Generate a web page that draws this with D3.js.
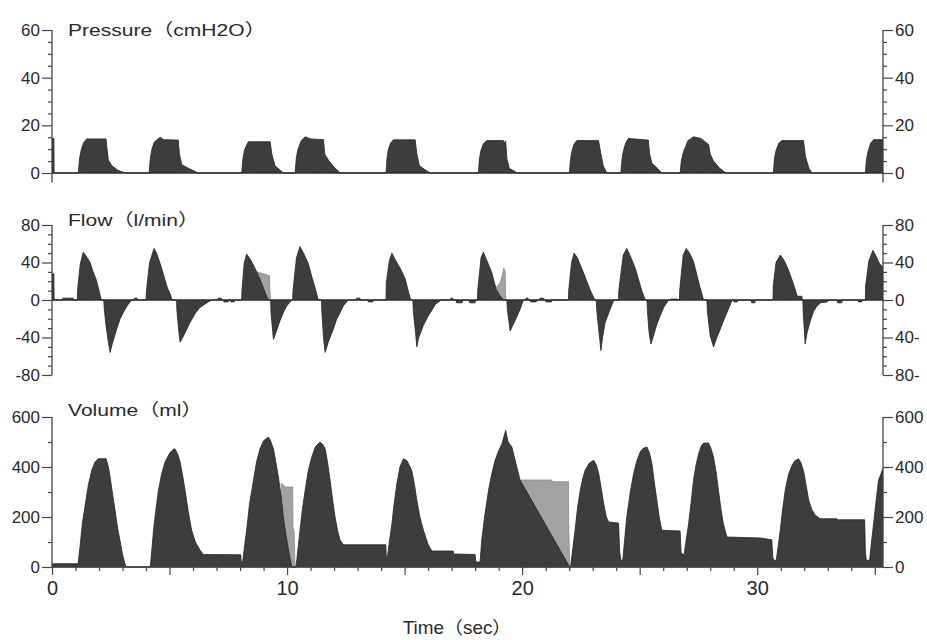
<!DOCTYPE html>
<html><head><meta charset="utf-8">
<script src="https://cdn.jsdelivr.net/npm/d3@7/dist/d3.min.js"></script>
<style>body{margin:0;background:#fff}svg{display:block}</style>
</head><body>
<svg id="c" width="927" height="640"></svg>
<script>
// ---------------- data ----------------
const panelTitles = ["Pressure（cmH2O）", "Flow（l/min）", "Volume（ml）"];
const xAxisTitle = "Time（sec）";
const xTickLabels = [0, 10, 20, 30];
const pressureTicks = [0, 20, 40, 60];
const flowTicks = [-80, -40, 0, 40, 80];
const flowRightLabels = ["80-", "40-", "0", "40", "80"];
const volumeTicks = [0, 200, 400, 600];

// [time (s), pressure (cmH2O)]
const pressureData = [
  [0,14.5],[0.08,14.5],[0.09,0],
  [1.12,0],[1.17,6],[1.25,10],[1.35,12.8],[1.47,14.3],[2.3,14.3],[2.34,10],[2.4,5.4],[2.55,3],[2.8,1.2],[3.11,0],
  [4.13,0],[4.18,6],[4.25,10],[4.35,13],[4.6,15],[4.75,14],[5.37,13.8],[5.42,8],[5.52,3.5],[5.8,2],[6.23,0],
  [8.07,0],[8.12,6],[8.2,10],[8.35,13.1],[9.28,13.1],[9.35,8],[9.49,3],[9.84,0],
  [10.34,0],[10.39,6],[10.45,9.5],[10.6,13.5],[10.77,15.2],[11.0,14.3],[11.55,14],[11.6,8],[11.76,5.4],[12.0,2.5],[12.26,0],
  [14.21,0],[14.25,6],[14.3,9.5],[14.4,12.5],[14.52,13.9],[15.45,13.9],[15.52,8],[15.63,3],[15.9,1.2],[16.09,0],
  [18.14,0],[18.18,6],[18.25,9.5],[18.35,12.3],[18.5,13.6],[19.2,13.6],[19.22,12.5],[19.3,13.5],[19.35,6],[19.45,2],[19.8,0],
  [22.01,0],[22.05,5],[22.1,8.5],[22.2,12],[22.33,13.6],[23.25,13.6],[23.35,8],[23.45,3],[23.6,0],
  [24.2,0],[24.25,6],[24.3,9],[24.4,12.5],[24.52,14.5],[25.37,13.8],[25.42,8],[25.52,4.1],[25.75,2],[25.94,0],
  [26.72,0],[26.77,5],[26.85,8.5],[27.05,13.5],[27.29,15.2],[27.6,14.5],[27.93,12],[28.0,8],[28.14,5],[28.4,2],[28.67,0],
  [30.69,0],[30.73,6],[30.8,9.5],[30.92,12.5],[31.05,13.6],[31.97,13.6],[32.05,7],[32.2,2],[32.33,0],
  [34.6,0],[34.64,5],[34.7,8.5],[34.82,12.5],[34.95,14],[35.35,14]
];

// [time (s), flow (l/min)]
const flowData = [
  [0,28],[0.08,28],[0.09,0],
  [0.45,0],[0.46,2],[0.9,2],[0.91,0],
  [1.08,0],[1.09,11],[1.2,38],[1.33,51],[1.45,47],[1.62,40],[1.75,30],[1.89,21],[2.0,10],[2.1,0],
  [2.2,0],[2.22,-8],[2.3,-28],[2.4,-45],[2.47,-56],[2.55,-48],[2.75,-31],[2.9,-20],[3.04,-13],[3.2,-6],[3.32,-2],[3.4,0],
  [3.5,0],[3.51,2],[3.62,2],[3.63,0],
  [4.0,0],[4.01,8],[4.15,40],[4.34,55],[4.45,50],[4.64,36],[4.8,22],[4.91,13],[5.05,5],[5.1,0],
  [5.3,0],[5.31,-10],[5.4,-35],[5.45,-45],[5.6,-38],[5.87,-24],[6.1,-14],[6.29,-8],[6.65,-2],[6.8,0],
  [7.05,0],[7.06,2],[7.2,2],[7.21,0],[7.3,0],[7.31,-2],[7.5,-2],[7.51,0],[7.6,0],[7.61,-2],[7.75,-2],[7.76,0],
  [8.07,0],[8.08,10],[8.18,40],[8.28,49],[8.45,43],[8.71,30],[8.85,22],[8.99,13],[9.1,6],[9.2,0],
  [9.3,0],[9.32,-15],[9.42,-42],[9.55,-33],[9.7,-22],[9.85,-13],[9.98,-6.5],[10.2,0],
  [10.24,0],[10.25,10],[10.4,45],[10.55,57],[10.7,50],[10.9,39],[11.05,25],[11.19,13],[11.33,0],
  [11.46,0],[11.48,-12],[11.55,-40],[11.62,-56],[11.75,-45],[11.97,-31],[12.1,-21],[12.26,-13],[12.4,-6],[12.55,-1.5],[12.6,0],
  [12.95,0],[12.96,2],[13.1,2],[13.11,0],[13.45,0],[13.46,-2],[13.65,-2],[13.66,0],
  [14.21,0],[14.22,18],[14.35,42],[14.46,50],[14.6,43],[14.81,34],[15.02,23],[15.15,10],[15.26,0],
  [15.35,0],[15.37,-12],[15.45,-31],[15.52,-50],[15.6,-40],[15.8,-27],[16.0,-17],[16.16,-11],[16.3,-5],[16.45,-2],[16.55,0],
  [16.95,0],[16.96,2],[17.05,2],[17.06,0],[17.2,0],[17.21,-3],[17.45,-3],[17.46,0],[17.75,0],[17.76,-3],[18.0,-3],[18.01,0],
  [18.1,0],[18.11,10],[18.25,45],[18.35,51],[18.5,42],[18.7,30],[18.9,11],[19.05,5],[19.2,0],
  [19.35,0],[19.37,-10],[19.49,-33],[19.6,-27],[19.7,-22],[19.91,-10],[20.05,0],
  [20.15,0],[20.16,2],[20.25,2],[20.26,0],[20.35,0],[20.36,-2],[20.6,-2],[20.61,0],[20.75,0],[20.76,2],[20.9,2],[20.91,0],[21.0,0],[21.01,-2],[21.25,-2],[21.26,0],
  [21.97,0],[21.98,10],[22.1,40],[22.21,50],[22.35,45],[22.61,29],[22.75,20],[22.89,11],[23.0,5],[23.1,0],
  [23.15,0],[23.17,-10],[23.25,-30],[23.35,-54],[23.42,-40],[23.53,-24],[23.74,-10],[23.9,0],
  [24.1,0],[24.11,10],[24.3,48],[24.45,55],[24.6,47],[24.81,34],[24.95,22],[25.1,9],[25.24,0],
  [25.31,0],[25.33,-12],[25.4,-35],[25.48,-47],[25.6,-37],[25.73,-26],[25.9,-15],[26.02,-8],[26.23,0],
  [26.3,0],[26.31,1],[26.6,1],[26.61,0],
  [26.69,0],[26.7,10],[26.85,48],[26.98,55],[27.12,50],[27.29,41],[27.45,25],[27.57,13],[27.72,0],
  [27.86,0],[27.88,-12],[28.0,-38],[28.14,-50],[28.25,-42],[28.43,-31],[28.6,-20],[28.71,-13.5],[28.93,0],
  [29.0,0],[29.01,-2],[29.15,-2],[29.16,0],[29.75,0],[29.76,-3],[29.9,-3],[29.91,0],
  [30.67,0],[30.68,15],[30.8,40],[30.98,48],[31.15,42],[31.33,32],[31.5,20],[31.62,11],[31.7,4],[31.9,4],[31.92,0],
  [31.94,0],[31.96,-15],[32.04,-47],[32.12,-35],[32.26,-22],[32.4,-12],[32.54,-6.5],[32.7,-3],[32.98,-2],[33.05,0],
  [33.4,0],[33.41,-3],[33.6,-3],[33.61,0],[34.3,0],[34.31,-2],[34.45,-2],[34.46,0],
  [34.6,0],[34.61,15],[34.75,42],[34.92,53],[35.05,47],[35.2,39],[35.35,35]
];
// light grey overlays (flow)
const flowGrayA = [[8.71,0],[8.71,30],[9.0,28],[9.25,26],[9.27,10],[9.3,0]];
const flowGrayB = [[18.86,0],[18.86,12],[19.05,18],[19.15,26],[19.22,34],[19.28,30],[19.3,0]];

// [time (s), volume (ml)]
const volumeData = [
  [0,13],[1.1,13],
  [1.12,20],[1.19,80],[1.3,180],[1.4,240],[1.55,330],[1.7,390],[1.83,420],[1.97,433],[2.3,433],[2.4,400],[2.47,360],[2.58,290],[2.68,227],[2.8,150],[2.89,107],[3.0,50],[3.1,13],[3.15,0],
  [4.18,0],
  [4.2,20],[4.32,147],[4.42,230],[4.53,307],[4.67,375],[4.81,420],[5.0,455],[5.15,470],[5.23,473],[5.35,450],[5.45,420],[5.55,370],[5.66,307],[5.8,220],[5.94,147],[6.1,100],[6.3,67],[6.44,50],[8.03,49],[8.05,20],
  [8.11,20],[8.2,90],[8.28,147],[8.4,250],[8.57,347],[8.7,420],[8.85,473],[9.0,505],[9.2,520],[9.3,505],[9.42,473],[9.52,420],[9.63,360],[9.75,280],[9.84,200],[9.95,130],[10.06,67],[10.16,20],[10.2,0],
  [10.38,0],[10.45,60],[10.55,147],[10.65,230],[10.77,307],[10.9,385],[11.05,440],[11.2,480],[11.4,500],[11.52,490],[11.62,473],[11.72,420],[11.83,347],[11.95,260],[12.04,200],[12.15,145],[12.26,107],[12.4,89],[14.2,89],[14.22,40],
  [14.27,40],[14.35,100],[14.46,173],[14.55,250],[14.67,333],[14.8,400],[14.95,433],[15.1,425],[15.3,387],[15.42,330],[15.52,267],[15.65,200],[15.8,147],[16.0,90],[16.16,64],[17.07,64],[17.08,52],[18.0,50],[18.03,20],
  [18.21,20],[18.28,107],[18.4,200],[18.57,307],[18.7,370],[18.85,427],[19.0,465],[19.14,493],[19.3,547],[19.4,500],[19.56,481],[19.77,401],[19.91,348],[22.02,0],
  [22.06,0],[22.11,40],[22.25,147],[22.36,240],[22.47,307],[22.58,355],[22.68,387],[22.85,415],[23.04,427],[23.15,410],[23.26,373],[23.37,310],[23.47,253],[23.58,200],[23.68,180],[24.1,176],[24.15,60],[24.2,27],
  [24.28,27],[24.35,100],[24.45,200],[24.6,300],[24.74,373],[24.88,425],[25.02,460],[25.15,475],[25.31,480],[25.42,455],[25.52,413],[25.62,340],[25.73,267],[25.83,200],[25.94,147],[26.72,144],[26.76,60],[26.79,53],
  [26.89,50],[26.98,110],[27.08,173],[27.19,260],[27.29,347],[27.4,410],[27.51,453],[27.62,485],[27.72,496],[27.93,496],[28.03,475],[28.14,440],[28.25,380],[28.35,307],[28.46,230],[28.56,173],[28.71,120],[30.13,116],[30.62,109],[30.66,40],[30.7,27],
  [30.81,27],[30.9,90],[30.98,147],[31.08,230],[31.19,307],[31.33,370],[31.48,407],[31.6,425],[31.76,433],[31.87,415],[31.98,380],[32.09,320],[32.19,267],[32.32,230],[32.47,207],[32.68,193],[33.39,193],[33.4,189],[34.57,189],[34.6,60],[34.64,27],
  [34.78,27],[34.86,100],[34.95,173],[35.05,260],[35.16,347],[35.35,395]
];
// light grey overlays (volume)
const volumeGrayA = [[9.75,0],[9.75,335],[9.85,328],[9.9,320],[10.24,320],[10.25,160],[10.3,140],[10.33,20],[10.36,0]];
const volumeGrayB = [[19.91,0],[19.91,348],[21.26,348],[21.27,341],[21.97,341],[21.98,175],[22.02,0]];

// ---------------- drawing ----------------
const W = 927, H = 640;
const svg = d3.select("#c");
const xL = 52, xR = 883;
const x = d3.scaleLinear().domain([0, 35.35]).range([xL, xR]);
const yP = d3.scaleLinear().domain([0, 60]).range([173, 30]);
const yF = d3.scaleLinear().domain([-80, 80]).range([375, 225]);
const yV = d3.scaleLinear().domain([0, 600]).range([567, 417]);

const DARK = "#3d3d3d", DARKLINE = "#252525", GRAY = "#a2a2a2", GRAYLINE = "#8a8a8a", AXIS = "#444", TXT = "#2a2a2a";
const FONT = "'Liberation Sans', Arial, 'Noto Sans CJK JP', sans-serif";
const NARROW = "'Liberation Sans Narrow', 'Arial Narrow', 'Liberation Sans', Arial, sans-serif";

svg.append("defs").append("clipPath").attr("id", "plot")
  .append("rect").attr("x", xL).attr("y", 0).attr("width", xR - xL).attr("height", H);

function drawArea(data, y, fill, stroke) {
  const area = d3.area().x(d => x(d[0])).y0(y(0)).y1(d => y(d[1]));
  svg.append("path").datum(data).attr("clip-path", "url(#plot)")
    .attr("d", area).attr("fill", fill).attr("stroke", stroke).attr("stroke-width", 0.8)
    .attr("stroke-linejoin", "round");
}
function baseline(y) {
  svg.append("line").attr("x1", xL).attr("x2", xR).attr("y1", y(0)).attr("y2", y(0))
    .attr("stroke", "#666").attr("stroke-width", 1.3);
}

function vAxes(y, majors, minors, lo, hi, leftLabels, rightLabels) {
  [["L", xL], ["R", xR]].forEach(([side, px]) => {
    const g = svg.append("g").attr("transform", `translate(${px},0)`);
    const maj = (side === "L" ? d3.axisLeft(y) : d3.axisRight(y))
      .tickValues(majors).tickSize(10).tickPadding(2)
      .tickFormat((d, i) => (side === "L" ? leftLabels : rightLabels)[i]);
    g.call(maj);
    const mn = (side === "L" ? d3.axisLeft(y) : d3.axisRight(y))
      .tickValues(minors).tickSize(4).tickFormat("");
    const g2 = svg.append("g").attr("transform", `translate(${px},0)`).call(mn);
    [g, g2].forEach(gg => { gg.select(".domain").remove(); gg.selectAll("line").attr("stroke", AXIS).attr("stroke-width", 1.2); });
    g.selectAll("text").attr("fill", TXT).style("font-family", NARROW).style("font-size", "17px");
    g.append("line").attr("x1", 0).attr("x2", 0).attr("y1", y(hi)).attr("y2", y(lo))
      .attr("stroke", AXIS).attr("stroke-width", 1.3);
  });
}

function title(txt, xx, yy, sx) {
  svg.append("text").attr("transform", `translate(${xx},${yy}) scale(${sx},1)`)
    .attr("fill", TXT).style("font-family", FONT).style("font-size", "17px").text(txt);
}

// Pressure panel
baseline(yP);
drawArea(pressureData, yP, DARK, DARKLINE);
vAxes(yP, pressureTicks, d3.range(0, 61, 5).filter(v => v % 20), -4, 60,
  pressureTicks.map(String), pressureTicks.map(String));
title(panelTitles[0], 68, 36, 1.24);

// Flow panel
baseline(yF);
drawArea(flowGrayA, yF, GRAY, GRAYLINE);
drawArea(flowGrayB, yF, GRAY, GRAYLINE);
drawArea(flowData, yF, DARK, DARKLINE);
vAxes(yF, flowTicks, d3.range(-80, 81, 10).filter(v => v % 40), -80, 80,
  flowTicks.map(String), flowRightLabels);
title(panelTitles[1], 68, 226, 1.24);

// Volume panel
drawArea(volumeGrayA, yV, GRAY, GRAYLINE);
drawArea(volumeGrayB, yV, GRAY, GRAYLINE);
drawArea(volumeData, yV, DARK, DARKLINE);
vAxes(yV, volumeTicks, [100, 300, 500], 0, 600, volumeTicks.map(String), volumeTicks.map(String));
title(panelTitles[2], 68, 416, 1.24);

// X axis
const gx1 = svg.append("g").attr("transform", `translate(0,${yV(0)})`)
  .call(d3.axisBottom(x).tickValues(d3.range(0, 36, 1).filter(v => v % 5)).tickSize(4).tickFormat(""));
const gx2 = svg.append("g").attr("transform", `translate(0,${yV(0)})`)
  .call(d3.axisBottom(x).tickValues(d3.range(0, 36, 5)).tickSize(8).tickPadding(6)
    .tickFormat(d => xTickLabels.includes(d) ? String(d) : ""));
[gx1, gx2].forEach(g => { g.select(".domain").remove(); g.selectAll("line").attr("stroke", AXIS).attr("stroke-width", 1.2); });
gx2.selectAll("text").attr("fill", TXT).style("font-family", NARROW).style("font-size", "20px");
svg.append("line").attr("x1", xL).attr("x2", xR).attr("y1", yV(0)).attr("y2", yV(0))
  .attr("stroke", AXIS).attr("stroke-width", 1.3);

svg.append("text").attr("transform", `translate(457,634) scale(1.08,1)`).attr("text-anchor", "middle")
  .attr("fill", TXT).style("font-family", FONT).style("font-size", "17.5px").text(xAxisTitle);
</script>
</body></html>
